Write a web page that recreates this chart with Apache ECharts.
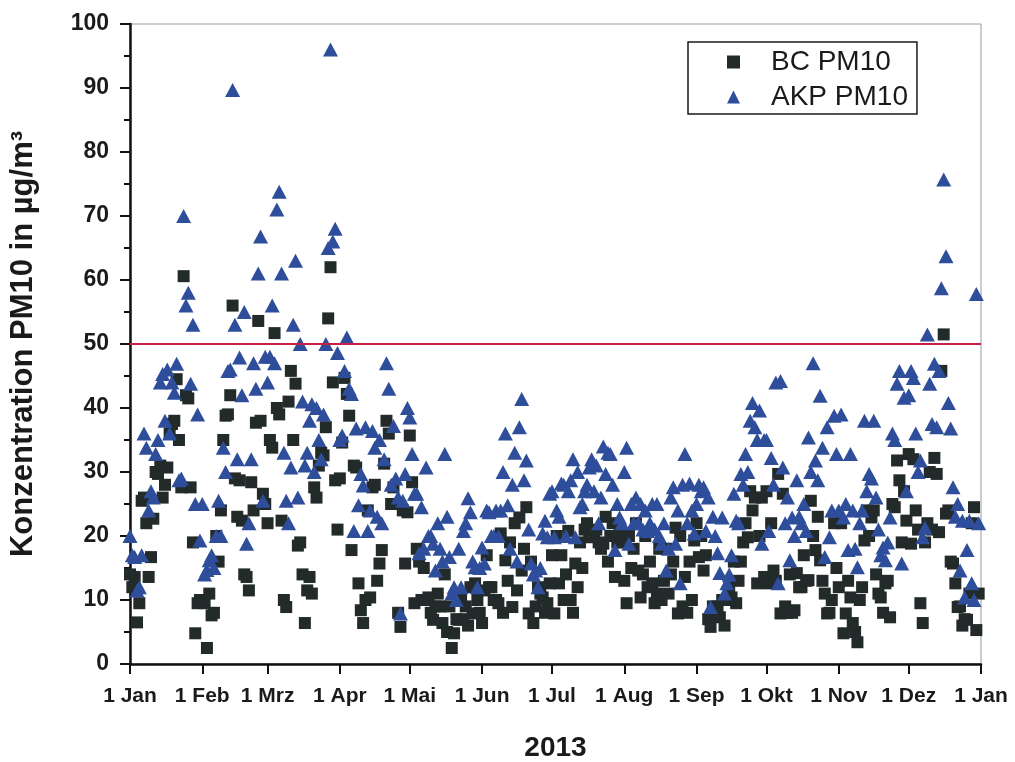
<!DOCTYPE html>
<html>
<head>
<meta charset="utf-8">
<script src="https://cdn.jsdelivr.net/npm/echarts@6/dist/echarts.min.js"></script>
<style>
  html, body { margin: 0; padding: 0; background: #ffffff; }
  #chart { width: 1015px; height: 762px; }
</style>
</head>
<body>
<div id="chart"></div>
<script>
// ---- tick labels / categories ----
const monthLabels = ['1 Jan', '1 Feb', '1 Mrz', '1 Apr', '1 Mai', '1 Jun', '1 Jul', '1 Aug', '1 Sep', '1 Okt', '1 Nov', '1 Dez', '1 Jan'];
const monthDays = [31, 28, 31, 30, 31, 30, 31, 31, 30, 31, 30, 31];
const yTicks = [0, 10, 20, 30, 40, 50, 60, 70, 80, 90, 100];
const limitValue = 50;

// ---- BC PM10 daily values (µg/m³), one array per month ----
const bcJan = [14, 12, 13.6, 6.5, 9.5, 25.5, 26, 22, 13.6, 16.7, 22.7, 30, 29.7, 31, 26, 28, 30.7, 36, 37.5, 38, 44.5, 35, 27.6, 60.6, 42, 41.5, 27.6, 19, 4.8, 9.5, 10];
const bcFeb = [10, 9.5, 2.5, 11, 7.6, 8, 20, 16, 24, 35, 38.8, 39, 42, 56, 29, 23, 28.7, 22.4, 14, 13.6, 11.5, 28.4, 24, 37.7, 53.6, 38, 26.6, 25];
const bcMar = [22, 35, 33.8, 51.7, 40, 39, 22.4, 10, 8.9, 41, 45.8, 35, 43.8, 18.5, 19, 14, 6.4, 11.5, 13.6, 11, 27.6, 26, 31, 33, 32.6, 37, 54, 62, 44, 28.7, 21];
const bcApr = [29, 34.6, 44.7, 42.2, 38.8, 17.8, 31, 30.7, 12.6, 8.4, 6.4, 10, 24, 10.4, 27.6, 28, 13, 15.7, 17.8, 31.3, 38, 36, 25, 27.6, 25, 8, 5.8, 24, 15.7, 23.7];
const bcMay = [35.7, 28.4, 9.5, 18, 16, 10, 15, 10, 10.4, 8, 6.9, 9, 11, 9, 6.4, 14, 5, 9, 2.5, 4.8, 7, 6.9, 10, 7, 9, 6, 12, 7.9, 12.6, 10, 8];
const bcJun = [6.4, 11.5, 17, 12, 12, 10, 10, 9.5, 20.4, 8, 16.2, 13, 19, 8.9, 22, 11.5, 22.9, 14.6, 18, 24.5, 7.9, 16, 6.4, 9, 12, 11, 10.4, 8, 9.5, 12.6];
const bcJul = [17, 7.9, 20, 12.6, 17, 10, 14, 20.8, 10, 8, 15.7, 12, 19, 15, 21, 22, 20, 19.8, 20, 21, 19, 18, 18.8, 23, 16, 20, 22, 13.6, 19, 20.8, 19];
const bcAug = [13, 9.5, 20, 15, 18, 22, 14.6, 10.4, 14, 20, 12, 16, 12.6, 9.5, 11, 18, 10, 13, 18, 11, 14, 16, 21.3, 7.9, 20, 9, 13.6, 8, 16, 10, 19.3];
const bcSep = [22, 16.7, 20, 14.6, 17, 7, 5.8, 9, 8, 9, 7.3, 10, 6, 10, 12, 10.4, 16, 9.5, 13, 16, 19, 22, 19.8, 27, 24, 26, 12.6, 20, 26, 13.6];
const bcOct = [27, 12.6, 22, 14.6, 13, 29.7, 7.9, 26.6, 9, 8, 14, 8, 8.4, 14.2, 12, 12, 17, 13, 13.1, 25.5, 20, 17.8, 23, 16.2, 13, 11, 7.9, 8, 10, 22, 15];
const bcNov = [12, 22, 4.8, 7.9, 13, 10.4, 6.4, 5, 3.4, 10, 12, 19.3, 24, 20, 22.9, 24, 14, 11, 10.4, 8, 12.6, 13, 7.3, 25, 24.5, 31.8, 28.7, 19, 27, 22.4];
const bcDec = [32.8, 18.8, 32, 24, 21, 9.5, 6.4, 19, 22, 30, 21, 32.2, 29.7, 20.6, 45.8, 51.5, 23.5, 24, 16, 15.7, 12.6, 8.9, 9, 6, 7, 6.9, 11, 22, 24.5, 5.3, 11];

// ---- AKP PM10 daily values (µg/m³), one array per month ----
const akpJan = [20, 17, 16.7, 11.5, 12, 17, 36, 33.8, 24, 27, 26, 32.8, 35, 44, 45.3, 38, 46, 36, 44, 42.4, 46.9, 28.7, 29, 70, 56, 58, 43.8, 53, 25, 39, 19.3];
const akpFeb = [25, 14, 14.7, 16.2, 17, 15, 20, 25.5, 20, 33.8, 30, 45.8, 46, 89.7, 53, 32, 47.9, 42, 55, 18.8, 22, 32, 47, 43, 61, 66.8, 25.5, 48];
const akpMar = [44, 48, 56, 47, 71, 73.8, 61, 33, 25.5, 22, 30.7, 53, 63, 26, 50, 41, 31, 33, 38, 40.6, 30, 40, 35, 32, 39, 50, 65, 96, 66, 68, 48.6];
const akpApr = [35, 35.7, 45.8, 51, 43, 42.2, 20.8, 36.8, 24.8, 29.7, 27.9, 37, 20.8, 24, 36.4, 33.8, 23, 35, 22, 32, 47, 43, 28, 37.2, 29, 26, 7.9, 25.5, 29.7, 40];
const akpMay = [38.5, 32.8, 26.6, 26.6, 17.3, 24.5, 18, 30.7, 20, 20, 18.8, 14.6, 22, 18, 16, 32.8, 23, 16.7, 11, 12, 10, 18, 12, 20.8, 22, 25.9, 23.7, 16, 15.1, 12, 15];
const akpJun = [18.2, 15.7, 24, 23.7, 20, 20, 24, 20, 24, 30, 36, 24.8, 18, 28, 33, 16, 37, 41.4, 28.7, 31.8, 21, 15.7, 14, 14.6, 12, 15, 20.4, 22.4, 19.8, 26.6];
const akpJul = [27, 19.8, 24, 23, 28.2, 28, 20, 27, 28.7, 32, 19.8, 30, 24.5, 25, 27, 28, 30.7, 32, 27, 31, 22, 26, 34, 29.7, 33, 32.8, 28, 17.8, 25, 22.9, 22];
const akpAug = [30, 33.8, 18.8, 25, 22, 26, 22, 25, 21, 24, 20.8, 22, 25, 21, 25, 20, 18.8, 22, 14.6, 18, 26, 27.6, 18.8, 24, 12.6, 28, 32.8, 22, 28.2, 24, 20.4];
const akpSep = [25, 28, 27, 27.6, 20.8, 26, 8.9, 23, 20, 17.3, 14.2, 22.9, 11, 12.6, 14, 17, 26.6, 22.4, 22, 29.7, 28, 32.8, 30, 38, 40.8, 37, 35, 39.6, 18.8, 35];
const akpOct = [35, 20.8, 32.2, 28, 44, 12.6, 44.2, 30.7, 22, 26, 16.2, 22.9, 20, 28.7, 23, 22, 25, 20.8, 35.4, 30, 47, 31.8, 28.7, 41.9, 33.8, 16.7, 37, 19.8, 24, 38.8, 32.8];
const akpNov = [24, 39, 22.9, 25, 17.8, 32.8, 24, 18, 15.1, 22, 24, 38, 27, 29.7, 29, 38, 26, 21, 17, 18.2, 16.2, 19, 22.9, 36, 35, 43.8, 45.8, 15.7, 41.6, 27];
const akpDec = [42, 45.8, 44.7, 36, 30, 31.8, 19.8, 21.3, 51.5, 43.8, 37.5, 46.9, 37, 45.8, 58.7, 75.7, 63.7, 40.8, 36.8, 27.6, 23, 25, 14.6, 22.4, 10.4, 17.8, 22.4, 12.6, 10, 57.8, 22];

const bcMonths = [bcJan, bcFeb, bcMar, bcApr, bcMay, bcJun, bcJul, bcAug, bcSep, bcOct, bcNov, bcDec];
const akpMonths = [akpJan, akpFeb, akpMar, akpApr, akpMay, akpJun, akpJul, akpAug, akpSep, akpOct, akpNov, akpDec];

// day-of-year of each month start (1 Jan 2013 = 0, 1 Jan 2014 = 365)
const monthStarts = [0];
monthDays.forEach(function (n) { monthStarts.push(monthStarts[monthStarts.length - 1] + n); });

function toPoints(months) {
  const pts = [];
  months.forEach(function (vals, m) {
    vals.forEach(function (v, i) {
      if (v != null) pts.push([monthStarts[m] + i, v]);
    });
  });
  return pts;
}

const FONT = "'Liberation Sans', Arial, 'Helvetica', sans-serif";

const chart = echarts.init(document.getElementById('chart'), null, { renderer: 'canvas' });
chart.setOption({
  animation: false,
  backgroundColor: '#ffffff',
  grid: {
    left: 130, right: 34, top: 24, bottom: 98,
    containLabel: false,
    outerBoundsMode: 'none',
    show: true, borderColor: '#9a9a9a', borderWidth: 1, backgroundColor: 'transparent'
  },
  legend: {
    data: ['BC PM10', 'AKP PM10'],
    orient: 'vertical',
    left: 688, top: 42,
    borderColor: '#1a1a1a', borderWidth: 1.5,
    padding: [6, 9, 3, 39],
    itemGap: 7,
    itemWidth: 13, itemHeight: 13,
    textStyle: { fontFamily: FONT, fontSize: 28, lineHeight: 28, color: '#1a1a1a', padding: [0, 0, 0, 26] }
  },
  xAxis: {
    type: 'value',
    min: 0, max: 365,
    name: '2013',
    nameLocation: 'middle',
    nameGap: 70,
    nameTextStyle: { fontFamily: FONT, fontSize: 28, fontWeight: 'bold', color: '#1a1a1a' },
    axisLine: { show: true, onZero: false, lineStyle: { color: '#111', width: 2.5 } },
    axisTick: { show: true, inside: false, length: 10, customValues: monthStarts, lineStyle: { color: '#111', width: 2 } },
    axisLabel: {
      show: true, margin: 22,
      customValues: monthStarts,
      showMinLabel: true, showMaxLabel: true,
      fontFamily: FONT, fontSize: 21, fontWeight: 'bold', color: '#1a1a1a',
      formatter: function (v) { const i = monthStarts.indexOf(v); return i >= 0 ? monthLabels[i] : ''; }
    },
    splitLine: { show: false }
  },
  yAxis: {
    type: 'value',
    min: yTicks[0], max: yTicks[yTicks.length - 1], interval: 10,
    name: 'Konzentration PM10 in µg/m³',
    nameLocation: 'middle',
    nameGap: 91,
    nameTextStyle: { fontFamily: FONT, fontSize: 31, fontWeight: 'bold', color: '#1a1a1a' },
    axisLine: { show: true, lineStyle: { color: '#111', width: 2.5 } },
    axisTick: { show: true, inside: false, length: 10, lineStyle: { color: '#111', width: 2 } },
    minorTick: { show: true, splitNumber: 2, length: 6, lineStyle: { color: '#111', width: 2 } },
    axisLabel: { margin: 21, fontFamily: FONT, fontSize: 23, fontWeight: 'bold', color: '#1a1a1a' },
    splitLine: { show: false }
  },
  series: [
    {
      name: 'BC PM10',
      type: 'scatter',
      symbol: 'rect',
      symbolSize: 12,
      itemStyle: { color: '#222a2a', opacity: 1 },
      data: toPoints(bcMonths),
      z: 2,
      markLine: {
        silent: true,
        symbol: 'none',
        label: { show: false },
        lineStyle: { color: '#c81e48', width: 2.2, type: 'solid' },
        data: [{ yAxis: limitValue }]
      }
    },
    {
      name: 'AKP PM10',
      type: 'scatter',
      symbol: 'triangle',
      symbolSize: [15, 14],
      itemStyle: { color: '#2e4d9b', opacity: 1 },
      data: toPoints(akpMonths),
      z: 3
    }
  ]
});
</script>
</body>
</html>
